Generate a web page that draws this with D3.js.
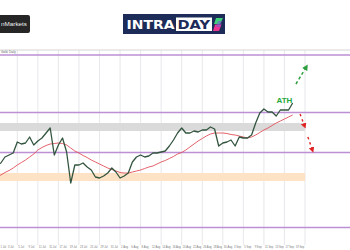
<!DOCTYPE html>
<html><head><meta charset="utf-8">
<script src="https://cdn.jsdelivr.net/npm/d3@7"></script>
<style>html,body{margin:0;padding:0;background:#fff;overflow:hidden}svg{display:block}</style>
</head><body><svg id="c" width="350" height="250"></svg>
<script>
// ---- data ----
const price = [2370,2374,2386,2390,2394,2416,2412,2414,2426,2410,2418,2424,2434,2444,2390,2410,2424,2396,2334,2370,
  2370,2374,2366,2360,2346,2344,2348,2354,2364,2356,2344,2348,2354,2376,2386,2390,2386,2388,2394,2394,
  2396,2398,2408,2420,2434,2444,2434,2434,2438,2436,2440,2440,2446,2442,2408,2414,2416,2420,2408,2426,
  2424,2424,2430,2454,2474,2482,2476,2476,2468,2480,2480,2480,2494];
const movingAvg = [2346,2350,2355,2359,2364,2370,2375,2380,2386,2392,2400,2405,2409,2412,2413,2414,2413,2410,2404,2398,
  2394,2389,2385,2380,2376,2372,2368,2364,2361,2358,2355,2354,2354,2356,2358,2360,2363,2366,2368,2372,
  2376,2379,2383,2387,2392,2395,2400,2406,2412,2418,2423,2428,2432,2434,2434,2434,2433,2431,2430,2428,
  2426,2424,2426,2430,2435,2440,2444,2449,2454,2458,2462,2466,2470];
const levels = [2590, 2475, 2395, 2245];
const zoneLow = [2438, 2338];
const zoneHigh = [2454, 2354];
const zoneKind = ["resistance", "support"];
const dateLabels = ["1 Jul","3 Jul","5 Jul","9 Jul","11 Jul","15 Jul","17 Jul","19 Jul",
  "23 Jul","25 Jul","29 Jul","31 Jul","2 Aug","6 Aug","8 Aug","12 Aug",
  "14 Aug","16 Aug","20 Aug","22 Aug","26 Aug","28 Aug","30 Aug","3 Sep",
  "5 Sep","9 Sep","11 Sep","13 Sep","17 Sep","19 Sep"];
const athLabel = {text: "ATH", index: 70, value: 2494};
const arrowUp = [{i: 72.8, v: 2532}, {i: 75.3, v: 2566}];
const arrowDown1 = [{i: 73.8, v: 2472}, {i: 74.9, v: 2448}];
const arrowDown2 = [{i: 75.7, v: 2426}, {i: 76.8, v: 2400}];

// ---- scales ----
const svg = d3.select("#c");
const x = d3.scaleLinear().domain([5, 75]).range([17.3, 305]);
const y = d3.scaleLinear().domain([2210, 2600]).range([245, 50]);
const font = "'Liberation Sans', Arial, sans-serif";

// defs
const defs = svg.append("defs");
function marker(id, color) {
  defs.append("marker").attr("id", id).attr("viewBox", "0 0 10 10").attr("refX", 5).attr("refY", 5)
    .attr("markerWidth", 4).attr("markerHeight", 4).attr("orient", "auto")
    .append("path").attr("d", "M0,0 L10,5 L0,10 z").attr("fill", color);
}
marker("mg", "#2e9e3e");
marker("mr", "#e02424");

// top border
svg.append("line").attr("x1", 0).attr("x2", 350).attr("y1", y(2600)).attr("y2", y(2600))
  .attr("stroke", "#c9c9c9").attr("stroke-width", 0.8);

// vertical grid
const gridIdx = d3.range(5, 76, 5);
svg.append("g").selectAll("line").data(gridIdx).join("line")
  .attr("x1", d => x(d)).attr("x2", d => x(d)).attr("y1", y(2600)).attr("y2", 245)
  .attr("stroke", "#dcdce4").attr("stroke-width", 0.7);

// zones
svg.append("g").selectAll("rect").data(zoneKind).join("rect")
  .attr("x", 0).attr("width", x(75))
  .attr("y", (d, i) => y(zoneHigh[i])).attr("height", (d, i) => y(zoneLow[i]) - y(zoneHigh[i]))
  .attr("fill", d => d === "resistance" ? "#dadada" : "#fde2c6");

// horizontal levels
svg.append("g").selectAll("line").data(levels).join("line")
  .attr("x1", 0).attr("x2", 350).attr("y1", d => y(d)).attr("y2", d => y(d))
  .attr("stroke", "#bd8fd4").attr("stroke-width", 1.3);

// moving average
svg.append("path").datum(movingAvg)
  .attr("d", d3.line().x((d, i) => x(i)).y(d => y(d)))
  .attr("fill", "none").attr("stroke", "#e0505a").attr("stroke-width", 0.9);

// price
svg.append("path").datum(price)
  .attr("d", d3.line().x((d, i) => x(i)).y(d => y(d)))
  .attr("fill", "none").attr("stroke", "#33553f").attr("stroke-width", 1.3).attr("stroke-linejoin", "round");

// ATH label
svg.append("text").attr("x", x(athLabel.index)).attr("y", y(athLabel.value))
  .attr("text-anchor", "middle").attr("font-family", font).attr("font-weight", "bold")
  .attr("font-size", 8).attr("fill", "#24a83a").text(athLabel.text);

// arrows
const al = d3.line().x(d => x(d.i)).y(d => y(d.v));
svg.append("path").datum(arrowUp).attr("d", al).attr("stroke", "#2e9e3e").attr("stroke-width", 1.5)
  .attr("stroke-dasharray", "3,2.5").attr("fill", "none").attr("marker-end", "url(#mg)");
[arrowDown1, arrowDown2].forEach(a => {
  svg.append("path").datum(a).attr("d", al).attr("stroke", "#e02424").attr("stroke-width", 1.4)
    .attr("stroke-dasharray", "2.5,3").attr("fill", "none").attr("marker-end", "url(#mr)");
});

// x-axis labels
svg.append("g").selectAll("text").data(dateLabels).join("text")
  .attr("x", (d, i) => Math.max(0.5, x(i * 2.5) + 1)).attr("y", 247.5)
  .attr("font-family", font).attr("font-size", 2.7).attr("fill", "#777").text(d => d);

// symbol label
svg.append("text").attr("x", 1).attr("y", 53.3).attr("font-family", font).attr("font-size", 3)
  .attr("fill", "#666").text("Gold, Daily");

// left broker logo
svg.append("rect").attr("x", -4).attr("y", 15).attr("width", 34).attr("height", 18).attr("rx", 2).attr("fill", "#262626");
svg.append("text").attr("x", 1).attr("y", 26).attr("font-family", font).attr("font-size", 6)
  .attr("fill", "#f0f0f0").attr("textLength", 26).attr("lengthAdjust", "spacingAndGlyphs").text("nMarkets");

// INTRADAY logo
const lg = svg.append("g");
lg.append("rect").attr("x", 123).attr("y", 14).attr("width", 102).attr("height", 20).attr("fill", "#1d2b58");
lg.append("rect").attr("x", 176).attr("y", 17.5).attr("width", 36).attr("height", 13.5).attr("fill", "#ffffff");
lg.append("text").attr("x", 126.5).attr("y", 29.3).attr("font-family", "'DejaVu Sans', sans-serif").attr("font-weight", "bold")
  .attr("font-size", 12.5).attr("fill", "#ffffff").attr("textLength", 48).attr("lengthAdjust", "spacingAndGlyphs").text("INTRA");
lg.append("text").attr("x", 177.5).attr("y", 29.3).attr("font-family", "'DejaVu Sans', sans-serif").attr("font-weight", "bold")
  .attr("font-size", 12.5).attr("fill", "#1d2b58").attr("textLength", 32.5).attr("lengthAdjust", "spacingAndGlyphs").text("DAY");
lg.append("path").attr("d", "M216,18 L223,18 L220,24 L214,24 Z").attr("fill", "#3fd07a");
lg.append("path").attr("d", "M215,24.5 L221.5,24.5 L219,31 L213,31 Z").attr("fill", "#ec3590");
lg.append("path").attr("d", "M218,21 L222,21 L220,27 L216,27 Z").attr("fill", "#7a5fd0").attr("opacity", 0.6);
</script></body></html>
